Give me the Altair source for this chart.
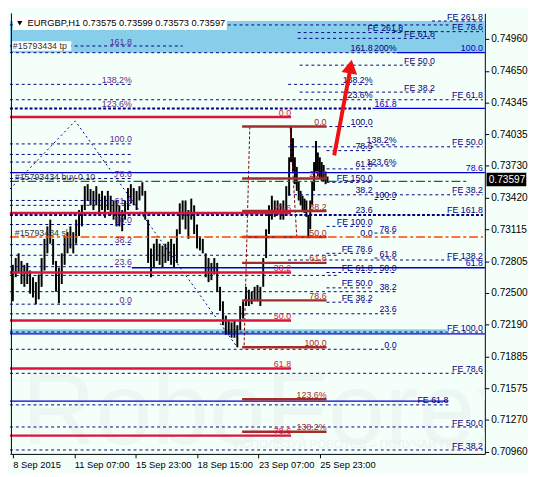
import json
import altair as alt
import pandas as pd

W, H = 484, 449
BG = "#F5FFFA"
FONT = "Liberation Sans"
NAVY = "#000080"
RED = "#DC143C"
BROWN = "#A52A2A"
BLUE = "#0000CD"
PURPLE = "#5B2A8C"

# ---------------- axes ----------------
tick_bars = [0, 64, 128, 192, 256, 320]
tick_labels = ["8 Sep 2015", "11 Sep 07:00", "15 Sep 23:00", "18 Sep 15:00", "23 Sep 07:00", "25 Sep 23:00"]
price_ticks = [0.74960, 0.74650, 0.74345, 0.74035, 0.73730, 0.73420, 0.73115,
               0.72805, 0.72500, 0.72190, 0.71885, 0.71575, 0.71270, 0.70960]
x_domain = [-3, 492]
y_domain = [0.70939, 0.75208]
last_price = 0.73597
title_text = "EURGBP,H1  0.73575 0.73599 0.73573 0.73597"

# ---------------- price bars (hourly, sampled) ----------------
bar_idx = list(range(0, 289, 3)) + list(range(290, 329, 2))
bar_high = [0.72771, 0.72837, 0.72883, 0.72809, 0.72771, 0.72790, 0.72716, 0.72651, 0.72604, 0.72678,
            0.72837, 0.73023, 0.73144, 0.73209, 0.73023, 0.72809, 0.72743, 0.72883, 0.73050, 0.73088,
            0.73144, 0.73088, 0.73209, 0.73302, 0.73348, 0.73534, 0.73553, 0.73506, 0.73488, 0.73534,
            0.73460, 0.73488, 0.73441, 0.73488, 0.73441, 0.73395, 0.73395, 0.73348, 0.73302, 0.73395,
            0.73515, 0.73553, 0.73515, 0.73488, 0.73534, 0.73571, 0.73488, 0.73209, 0.72930, 0.72976,
            0.73023, 0.72976, 0.72957, 0.72976, 0.72995, 0.73023, 0.72976, 0.73116, 0.73367, 0.73395,
            0.73395, 0.73302, 0.73413, 0.73348, 0.73162, 0.73050, 0.73023, 0.72883, 0.72837, 0.72790,
            0.72837, 0.72790, 0.72558, 0.72418, 0.72279, 0.72232, 0.72213, 0.72232, 0.72186, 0.72372,
            0.72418, 0.72558, 0.72530, 0.72511, 0.72558, 0.72576, 0.72558, 0.72837, 0.73116, 0.73348,
            0.73441, 0.73395, 0.73395, 0.73367, 0.73395, 0.73534, 0.73813,
            0.74111, 0.73999, 0.73813, 0.73720, 0.73580, 0.73488, 0.73441, 0.73413, 0.73395, 0.73255,
            0.73395, 0.73580, 0.73767, 0.73971, 0.73860, 0.73813, 0.73767, 0.73739, 0.73674, 0.73627]
bar_low = [0.72418, 0.72651, 0.72697, 0.72585, 0.72558, 0.72585, 0.72492, 0.72455, 0.72390, 0.72437,
           0.72558, 0.72716, 0.72883, 0.72976, 0.72771, 0.72511, 0.72399, 0.72585, 0.72771, 0.72883,
           0.72930, 0.72883, 0.72976, 0.73050, 0.73144, 0.73302, 0.73395, 0.73348, 0.73302, 0.73348,
           0.73255, 0.73302, 0.73227, 0.73302, 0.73255, 0.73209, 0.73144, 0.73144, 0.73097, 0.73209,
           0.73302, 0.73367, 0.73348, 0.73302, 0.73395, 0.73441, 0.73209, 0.72790, 0.72651, 0.72743,
           0.72809, 0.72771, 0.72743, 0.72790, 0.72809, 0.72771, 0.72743, 0.72790, 0.73069, 0.73209,
           0.73116, 0.73023, 0.73209, 0.73069, 0.72930, 0.72911, 0.72883, 0.72651, 0.72604, 0.72623,
           0.72678, 0.72511, 0.72325, 0.72186, 0.72093, 0.72093, 0.72065, 0.72065, 0.71972, 0.72139,
           0.72251, 0.72372, 0.72372, 0.72390, 0.72418, 0.72418, 0.72372, 0.72558, 0.72837, 0.73069,
           0.73209, 0.73236, 0.73255, 0.73209, 0.73209, 0.73302, 0.73441,
           0.73767, 0.73674, 0.73553, 0.73488, 0.73395, 0.73348, 0.73302, 0.73274, 0.73236, 0.73050,
           0.73116, 0.73348, 0.73488, 0.73674, 0.73627, 0.73608, 0.73580, 0.73580, 0.73553, 0.73571]

# ---------------- level lines (price, first bar, last bar) ----------------
dash_price = [0.75134, 0.75096, 0.75031, 0.75022, 0.74966, 0.74892, 0.74827, 0.74706, 0.74520, 0.74520,
              0.74445, 0.74371, 0.74111, 0.73943, 0.73915, 0.73934, 0.73878, 0.73841, 0.73767, 0.73729,
              0.73701, 0.73571, 0.73608, 0.73450, 0.73404, 0.73395, 0.73348, 0.73162, 0.73144, 0.73079,
              0.72967, 0.72883, 0.72864, 0.72837, 0.72818, 0.72753, 0.72697, 0.72669, 0.72548, 0.72511,
              0.72409, 0.72390, 0.72297, 0.72120, 0.71953, 0.71720, 0.71414, 0.71200, 0.70977]
dash_from = [437, -3, 397, 297, 297, -3, -3, 299, -3, 287,
             299, -3, 287, -3, 287, 377, 327, -3, -3, 377,
             327, 327, -3, 287, 377, -3, -3, -3, 327, 377,
             -3, 327, -3, 377, 287, -3, 327, -3, 327, -3,
             327, -3, -3, -3, -3, -3, -3, -3, -3]
dash_to = [490, 454, 490, 407, 440, 177, 400, 440, 124, 375,
           440, 490, 375, 124, 490, 400, 375, 124, 124, 400,
           375, 375, 124, 490, 400, 124, 124, 124, 375, 400,
           124, 375, 340, 400, 490, 124, 400, 340, 375, 400,
           375, 124, 400, 490, 400, 490, 454, 490, 490]

thick_price = [0.74287, 0.73255]
thick_from = [-3, -3]
thick_to = [375, 490]

blue_price = [0.74827, 0.74287, 0.73664, 0.72743, 0.72102, 0.71451]
blue_from = [400, 375, -3, 124, -3, -3]
blue_to = [492, 492, 492, 492, 492, 454]

red_price = [0.74204, 0.73274, 0.72697, 0.72232, 0.71767, 0.71116]
red_text = ["0.0", "23.6", "38.2", "50.0", "61.8", "78.6"]
red_from, red_to = -3, 290

brown_price = [0.74111, 0.73608, 0.73292, 0.73041, 0.72790, 0.72427, 0.71972, 0.71469, 0.71153]
brown_text = ["0.0", "23.6", "38.2", "50.0", "61.8", "78.6", "100.0", "123.6%", "138.2%"]
brown_from, brown_to = 239, 327

order_price = [0.73580, 0.73041]   # buy (green), stop loss (orange)
order_color = ["#008000", "#FF4500"]
order_to = [475, 490]

band_top = [0.75134, 0.72148]
band_bottom = [0.74827, 0.72111]
band_from = [-3, -3]
band_to = [492, 452]

# ---------------- labels ----------------
navy_text = ["FE 261.8", "FE 78.6", "FE 261.8", "FE 61.8", "FE 50.0", "FE 38.2", "FE 61.8", "FE 50.0",
             "FE 38.2", "FE 161.8", "FE 138.2", "FE 100.0", "FE 78.6", "FE 61.8", "FE 50.0", "FE 38.2",
             "161.8", "138.2%", "123.6%", "100.0", "78.6", "61.8", "FE 150.0", "38.2", "23.6",
             "FE 100.0", "0.0", "FE 78.6", "FE 61.8", "FE 50.0", "FE 38.2",
             "200%", "138.2%", "123.6%", "100.0", "78.6", "61.8", "50.0", "38.2", "23.6", "0.0"]
navy_at = [490, 490, 407, 440, 440, 440, 490, 490, 490, 490, 490, 490, 490, 454, 490, 490,
           375, 375, 375, 375, 375, 375, 375, 375, 375, 375, 375, 375, 375, 375, 375,
           400, 400, 400, 400, 400, 400, 400, 400, 400, 400]
navy_price = [0.75134, 0.75031, 0.75022, 0.74966, 0.74706, 0.74445, 0.74371, 0.73915,
              0.73450, 0.73255, 0.72818, 0.72120, 0.71720, 0.71414, 0.71200, 0.70977,
              0.74827, 0.74520, 0.74371, 0.74111, 0.73878, 0.73701, 0.73571, 0.73450, 0.73255,
              0.73144, 0.73041, 0.72883, 0.72697, 0.72548, 0.72409,
              0.74827, 0.73934, 0.73729, 0.73404, 0.73079, 0.72837, 0.72697, 0.72511, 0.72297, 0.71953]

left_text = ["161.8", "138.2%", "123.6%", "100.0", "78.6", "61.8", "50.0", "38.2", "23.6", "0.0"]
left_price = [0.74892, 0.74520, 0.74287, 0.73943, 0.73608, 0.73348, 0.73162, 0.72967, 0.72753, 0.72390]
left_at = 124

blue_text = ["100.0", "161.8", "78.6", "61.8"]
blue_at = [490, 400, 490, 490]
blue_label_price = [0.74827, 0.74287, 0.73664, 0.72743]

order_text = ["#15793434 tp", "#15793434 buy 0.10", "#15793434 sl"]
order_text_price = [0.74892, 0.73580, 0.73041]

trend_bar = [-3, 65, 234]
trend_price = [0.73506, 0.74166, 0.71972]

vline_group = ["a", "a", "b", "b"]
vline_bar = [247, 241, 289, 296]
vline_price = [0.74111, 0.71972, 0.74111, 0.73041]

arrow_bar = [335, 351]
arrow_price = [0.73832, 0.74631]
arrow_head = (352, 0.74693)

watermark = "RoboForex"
watermark_sub = "ИСПОЛЬЗУЙ РОБОТОВ – ПОЛУЧАЙ ПРИБЫЛЬ"

# ---------------- scales / encodings ----------------
xs = alt.Scale(domain=x_domain, nice=False, zero=False)
ys = alt.Scale(domain=y_domain, nice=False, zero=False)
label_expr = json.dumps(tick_labels).replace('"', "'") + f"[round(datum.value/{tick_bars[1]})]"
xax = alt.Axis(values=tick_bars, labelExpr=label_expr, title=None, grid=False, tickSize=4,
               labelAlign="left", labelBaseline="top", labelPadding=2, labelFont=FONT,
               labelFontSize=9.5, labelColor="black", domainColor="black", tickColor="black",
               labelOverlap=False, labelFlush=False)
yax = alt.Axis(orient="right", values=price_ticks, format=".5f", title=None, grid=False, tickSize=4,
               labelPadding=2, labelFont=FONT, labelFontSize=10.3, labelColor="black",
               domainColor="black", tickColor="black", labelOverlap=False, labelFlush=False)


def X(f):
    return alt.X(f"{f}:Q", scale=xs, axis=xax)


def Y(f):
    return alt.Y(f"{f}:Q", scale=ys, axis=yax)


def hlines(prices, b1, b2, **mk):
    n = len(prices)
    b1 = b1 if isinstance(b1, list) else [b1] * n
    b2 = b2 if isinstance(b2, list) else [b2] * n
    df = pd.DataFrame({"p": prices, "b1": b1, "b2": b2})
    return alt.Chart(df).mark_rule(**mk).encode(x=X("b1"), x2="b2", y=Y("p"))


def labels(texts, at, prices, color, align="right", baseline="bottom", size=9, dy=0.5):
    n = len(texts)
    at = at if isinstance(at, list) else [at] * n
    df = pd.DataFrame({"t": texts, "b": at, "p": prices})
    return alt.Chart(df).mark_text(align=align, baseline=baseline, dy=dy, font=FONT,
                                   fontSize=size, color=color).encode(x=X("b"), y=Y("p"), text="t:N")


layers = []

# faint watermark
wm = pd.DataFrame({"t": [watermark]})
layers.append(alt.Chart(wm).mark_text(align="left", baseline="alphabetic", font=FONT, fontSize=104,
                                      color="#ECF6F2", clip=True)
              .encode(x=alt.value(12), y=alt.value(H - 10), text="t:N"))
wm2 = pd.DataFrame({"t": [watermark_sub]})
layers.append(alt.Chart(wm2).mark_text(align="left", baseline="alphabetic", font=FONT, fontSize=12,
                                       color="#E9F3EF", clip=True)
              .encode(x=alt.value(228), y=alt.value(H - 6), text="t:N"))

# blue bands
band_df = pd.DataFrame({"b1": band_from, "b2": band_to, "p1": band_top, "p2": band_bottom})
layers.append(alt.Chart(band_df).mark_rect(color="#87CEEB").encode(x=X("b1"), x2="b2", y=Y("p1"), y2="p2"))

# candles
bars_df = pd.DataFrame({"b": bar_idx, "hi": bar_high, "lo": bar_low})
layers.append(alt.Chart(bars_df).mark_rule(color="black", strokeWidth=2)
              .encode(x=X("b"), y=Y("lo"), y2="hi"))

# dashed level lines
layers.append(hlines(dash_price, dash_from, dash_to, color=NAVY, strokeDash=[3, 3], strokeWidth=1))
layers.append(hlines(thick_price, thick_from, thick_to, color=NAVY, strokeDash=[3, 2], strokeWidth=2))

# trend line (dotted) and fib verticals
trend_df = pd.DataFrame({"b": trend_bar, "p": trend_price, "o": [0, 1, 2]})
layers.append(alt.Chart(trend_df).mark_line(color=NAVY, strokeDash=[2, 3], strokeWidth=1)
              .encode(x=X("b"), y=Y("p"), order="o:Q"))
vl_df = pd.DataFrame({"g": vline_group, "b": vline_bar, "p": vline_price, "o": [0, 1, 0, 1]})
layers.append(alt.Chart(vl_df).mark_line(color="#8B0000", strokeDash=[3, 2], strokeWidth=1)
              .encode(x=X("b"), y=Y("p"), detail="g:N", order="o:Q"))

# solid blue lines
layers.append(hlines(blue_price, blue_from, blue_to, color=BLUE, strokeWidth=1.3))

# red and brown fibo levels
layers.append(hlines(red_price, red_from, red_to, color=RED, strokeWidth=2.5))
layers.append(hlines(brown_price, brown_from, brown_to, color=BROWN, strokeWidth=2.5))

# order lines (dash-dot)
for p, c, t in zip(order_price, order_color, order_to):
    layers.append(hlines([p], -3, t, color=c, strokeDash=[9, 3, 3, 3], strokeWidth=1.3))

# tp label background
tp_df = pd.DataFrame({"b1": [-1], "b2": [61], "p1": [0.74938], "p2": [0.74845]})
layers.append(alt.Chart(tp_df).mark_rect(color="white").encode(x=X("b1"), x2="b2", y=Y("p1"), y2="p2"))

# labels
layers.append(labels(navy_text, navy_at, navy_price, NAVY))
layers.append(labels(left_text, left_at, left_price, PURPLE))
layers.append(labels(blue_text, blue_at, blue_label_price, BLUE))
layers.append(labels(red_text, red_to, red_price, RED))
layers.append(labels(brown_text, brown_to, brown_price, BROWN))
layers.append(labels(order_text[:1], 0, order_text_price[:1], "#333333", align="left", baseline="middle", dy=0))
layers.append(labels(order_text[1:], 2, order_text_price[1:], "#333333", align="left"))

# red arrow
arr_df = pd.DataFrame({"b": arrow_bar, "p": arrow_price})
layers.append(alt.Chart(arr_df).mark_line(color="#F01010", strokeWidth=4).encode(x=X("b"), y=Y("p")))
head_df = pd.DataFrame({"b": [arrow_head[0]], "p": [arrow_head[1]]})
layers.append(alt.Chart(head_df).mark_point(shape="triangle-up", filled=True, size=260, angle=10,
                                            color="#F01010", opacity=1).encode(x=X("b"), y=Y("p")))

# left frame line
frame_df = pd.DataFrame({"k": [0]})
layers.append(alt.Chart(frame_df).mark_rule(color="black", strokeWidth=1)
              .encode(x=alt.value(1.5), y=alt.value(0), y2=alt.value(H)))

# title box
layers.append(alt.Chart(frame_df).mark_rect(color="white")
              .encode(x=alt.value(3), x2=alt.value(221), y=alt.value(3), y2=alt.value(17)))
layers.append(alt.Chart(frame_df).mark_point(shape="triangle-down", filled=True, size=28, color="black", opacity=1)
              .encode(x=alt.value(10), y=alt.value(10)))
title_df = pd.DataFrame({"t": [title_text]})
layers.append(alt.Chart(title_df).mark_text(align="left", baseline="middle", font=FONT, fontSize=9.5, color="black")
              .encode(x=alt.value(18), y=alt.value(10), text="t:N"))

# current price tag on the axis
cp_df = pd.DataFrame({"p": [last_price], "t": [f"{last_price:.5f}"]})
layers.append(alt.Chart(cp_df).mark_point(shape="M-1,-0.34L1,-0.34L1,0.34L-1,0.34Z", filled=True,
                                          size=1640, color="black", opacity=1)
              .encode(x=alt.value(W + 22), y=Y("p")))
layers.append(alt.Chart(cp_df).mark_text(align="left", baseline="middle", font=FONT, fontSize=10.3, color="white")
              .encode(x=alt.value(W + 4), y=Y("p"), text="t:N"))

chart = alt.layer(*layers).properties(
    width=W, height=H, background=BG,
    padding={"left": 0, "right": 0, "top": 0, "bottom": 0},
).configure_view(stroke=None)

chart.save("out.html", embed_options={"renderer": "svg", "actions": False})
